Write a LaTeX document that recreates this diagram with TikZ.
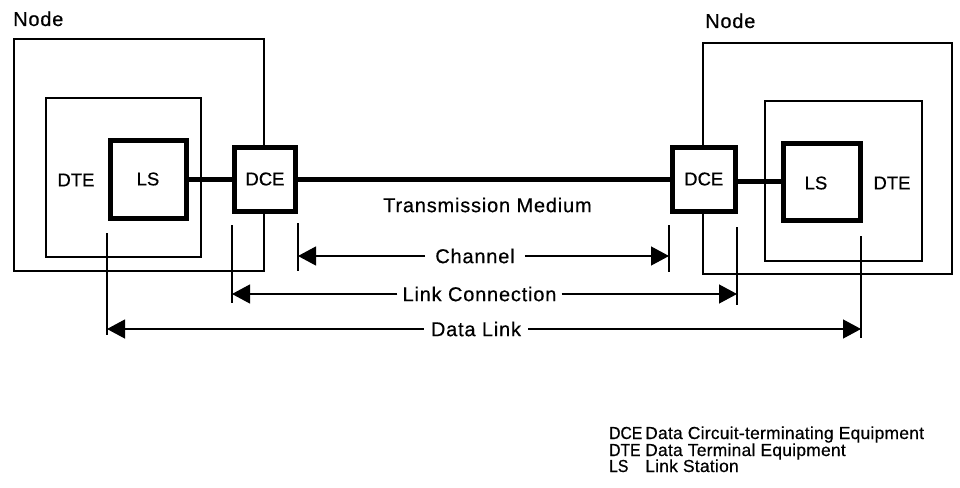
\documentclass[tikz,border=0pt]{standalone}
\usepackage{fontspec}
\setmainfont{Liberation Sans}[FakeBold=0.5]
\usetikzlibrary{arrows.meta}
\begin{document}
\begin{tikzpicture}[x=1pt,y=-1pt,
  every node/.style={font=\fontsize{18.5}{22}\selectfont, inner sep=0pt},
  widefont/.style={font=\fontsize{20}{24}\selectfont\addfontfeature{LetterSpace=4}},
  thinbox/.style={draw, line width=2pt, inner sep=0pt},
  thickbox/.style={draw, line width=5pt, fill=white, inner sep=0pt},
  wire/.style={line width=5pt},
  tickline/.style={line width=1.3pt},
  dimline/.style={line width=1.2pt, -{Triangle[length=18pt,width=19pt]}},
  dimlabel/.style={widefont, inner xsep=5pt},
  legend/.style={font=\fontsize{17.4}{20}\selectfont\addfontfeature{LetterSpace=1.5}, anchor=base west},
  legendabbr/.style={font=\fontsize{17.4}{20}\selectfont\addfontfeature{FakeStretch=0.9}, anchor=base west}]
\useasboundingbox (0,0) rectangle (960,487);
% left node
\node[thinbox, minimum width=250pt, minimum height=232pt] (nodeL) at (139,155) {};
\node[thinbox, minimum width=155pt, minimum height=159pt] (dteL) at (123.5,177.5) {};
\node[thickbox, minimum width=76pt, minimum height=78pt] (lsL) at (148,179) {LS};
\node[thickbox, minimum width=61pt, minimum height=64pt] (dceL) at (265,179) {DCE};
\node (dteLlbl) at (76,180) {DTE};
\node[widefont, anchor=base west] (nodeLlbl) at (13,26) {Node};
% right node
\node[thinbox, minimum width=249pt, minimum height=231pt] (nodeR) at (827.5,158.5) {};
\node[thinbox, minimum width=157pt, minimum height=160pt] (dteR) at (843.5,181) {};
\node[thickbox, minimum width=77pt, minimum height=77pt] (lsR) at (821.5,181.5) {};
\node (lsRlbl) at (816,183) {LS};
\node[thickbox, minimum width=63.5pt, minimum height=64pt] (dceR) at (703.75,179) {DCE};
\node (dteRlbl) at (892,183) {DTE};
\node[widefont, anchor=base west] (nodeRlbl) at (705,28) {Node};
% wires
\draw[wire] (lsL.east) -- (dceL.west);
\draw[wire] (dceL.east) -- (dceR.west);
\draw[wire] (dceR.east |- lsR.west) -- (lsR.west);
\node[widefont, anchor=west] (tm) at (383,205) {Transmission Medium};
% ticks
\coordinate (tDLa1) at (107,233); \coordinate (tDLa2) at (107,335);
\coordinate (tDLb1) at (861,236); \coordinate (tDLb2) at (861,338);
\coordinate (tLCa1) at (232,225); \coordinate (tLCa2) at (232,303);
\coordinate (tLCb1) at (737,227); \coordinate (tLCb2) at (737,305);
\coordinate (tCHa1) at (298,223); \coordinate (tCHa2) at (298,271);
\coordinate (tCHb1) at (669,225); \coordinate (tCHb2) at (669,272);
\draw[tickline] (tDLa1) -- (tDLa2);
\draw[tickline] (tDLb1) -- (tDLb2);
\draw[tickline] (tLCa1) -- (tLCa2);
\draw[tickline] (tLCb1) -- (tLCb2);
\draw[tickline] (tCHa1) -- (tCHa2);
\draw[tickline] (tCHb1) -- (tCHb2);
% dimension lines
\node[dimlabel, inner xsep=10pt] (chlbl) at (475,256) {Channel};
\draw[dimline] (chlbl.west) -- (chlbl.west -| tCHa1);
\draw[dimline] (chlbl.east) -- (chlbl.east -| tCHb1);
\node[dimlabel] (lclbl) at (479.5,294) {Link Connection};
\draw[dimline] (lclbl.west) -- (lclbl.west -| tLCa1);
\draw[dimline] (lclbl.east) -- (lclbl.east -| tLCb1);
\node[dimlabel, inner xsep=7pt] (dllbl) at (476,329) {Data Link};
\draw[dimline] (dllbl.west) -- (dllbl.west -| tDLa1);
\draw[dimline] (dllbl.east) -- (dllbl.east -| tDLb1);
% legend
\node[legendabbr] (lgA1) at (609,439) {DCE};
\node[legend] (lgA2) at (645,439) {Data Circuit-terminating Equipment};
\node[legendabbr] (lgB1) at (609,456) {DTE};
\node[legend] (lgB2) at (645,456) {Data Terminal Equipment};
\node[legendabbr] (lgC1) at (609,472) {LS};
\node[legend] (lgC2) at (645,472) {Link Station};
\end{tikzpicture}
\end{document}
